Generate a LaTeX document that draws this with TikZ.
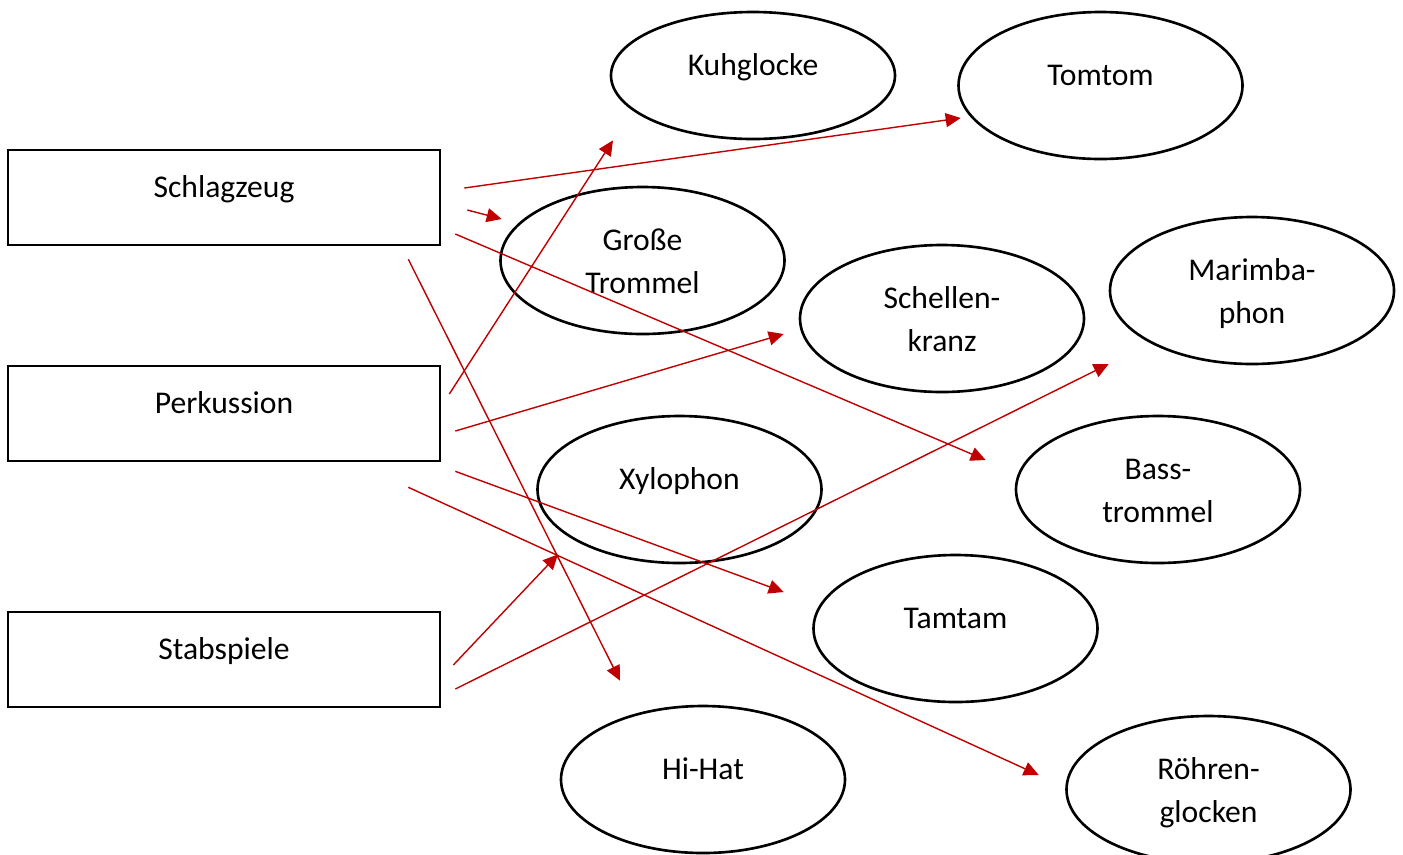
\documentclass[tikz,border=0pt]{standalone}
\usepackage{fontspec}
\setmainfont{Carlito}
\usetikzlibrary{shapes.geometric,arrows.meta}
\definecolor{arrowred}{RGB}{192,0,0}

\begin{document}
\begin{tikzpicture}[font=\fontsize{9}{12.2}\selectfont,
  group/.style={draw,line width=0.75pt,minimum width=4.32cm,minimum height=0.95cm,inner sep=0pt,text height=0.3cm,text depth=0.3cm},
  instr/.style={draw,ellipse,line width=0.75pt,minimum width=2.84cm,minimum height=1.47cm,inner sep=0pt,align=center,text height=0.3cm,text depth=0.3cm},
  twolines/.style={text height=0.8cm,text depth=0.14cm},
  link/.style={arrowred,line width=0.4pt,-{Triangle[length=0.15cm,width=0.14cm]}}]
\useasboundingbox (0,0) rectangle (14.03,-8.54);
% groups
\node[group] (sz)at(2.24,-1.975){Schlagzeug};
\node[group] (pk)at(2.24,-4.135){Perkussion};
\node[group] (st)at(2.24,-6.595){Stabspiele};
% instruments
\node[instr,minimum height=1.27cm] (ku)at(7.53,-0.755){Kuhglocke};
\node[instr] (tom)at(11.005,-0.855){Tomtom};
\node[instr,twolines] (gt)at(6.425,-2.605){Große\\Trommel};
\node[instr,twolines] (sk)at(9.42,-3.185){Schellen-\\kranz};
\node[instr,twolines] (mb)at(12.52,-2.905){Marimba-\\phon};
\node[instr] (xy)at(6.795,-4.895){Xylophon};
\node[instr,twolines] (bt)at(11.58,-4.895){Bass-\\trommel};
\node[instr] (tt)at(9.555,-6.285){Tamtam};
\node[instr] (hh)at(7.03,-7.795){Hi-Hat};
\node[instr,twolines] (rg)at(12.085,-7.895){Röhren-\\glocken};
% links
\draw[link] ([shift={(0.23,0.095)}]sz.east) -- ([shift={(0.035,-0.325)}]tom.west);
\draw[link] ([shift={(0.26,-0.125)}]sz.east) -- ([shift={(0.025,0.415)}]gt.west);
\draw[link] ([shift={(0.14,-0.365)}]sz.east) -- ([shift={(-0.29,0.295)}]bt.west);
\draw[link] ([shift={(-0.33,-0.13)}]sz.south east) -- ([shift={(-0.83,0.24)}]hh.north);
\draw[link] ([shift={(0.08,0.195)}]pk.east) -- ([shift={(-1.40,0)}]ku.south);
\draw[link] ([shift={(0.14,-0.175)}]pk.east) -- ([shift={(-0.15,-0.155)}]sk.west);
\draw[link] ([shift={(0.14,-0.09)}]pk.south east) -- ([shift={(-0.285,0.365)}]tt.west);
\draw[link] ([shift={(-0.33,-0.25)}]pk.south east) -- ([shift={(-0.265,0.145)}]rg.west);
\draw[link] ([shift={(0.12,-0.055)}]st.east) -- ([shift={(-1.215,0.10)}]xy.south);
\draw[link] ([shift={(0.14,-0.295)}]st.east) -- ([shift={(0,-0.735)}]mb.west);
\end{tikzpicture}
\end{document}
